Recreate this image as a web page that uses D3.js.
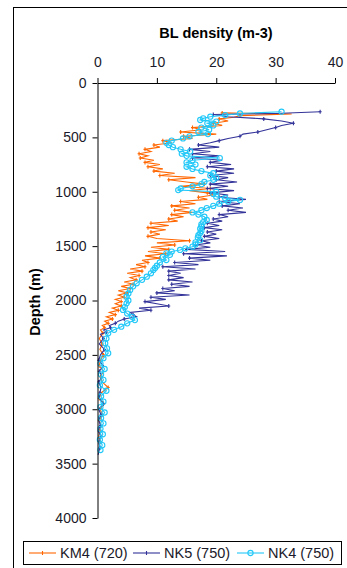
<!DOCTYPE html>
<html>
<body style="margin:0">
<meta charset="UTF-8">
<title>BL density vs depth</title>
<style>
    body {
        font: 11px "Liberation Sans", Arial, sans-serif;
        background: #fff;
    }
    .axis text {
        font: 14px "Liberation Sans", Arial, sans-serif;
        fill: #1a1a2a;
    }
    .axis path, .axis line {
        stroke: #000;
    }
</style>
<div id="chart"></div>
<script src="https://d3js.org/d3.v7.min.js"></script>
<script>

    var xTicks = [0, 10, 20, 30, 40];
    var yTicks = [0, 500, 1000, 1500, 2000, 2500, 3000, 3500, 4000];

    var km4Depth = [275, 285, 300, 315, 330, 350, 370, 390, 410, 430, 450, 470, 490, 510, 530, 550, 570, 590, 610, 630,
        650, 670, 690, 710, 730, 750, 770, 790, 810, 830, 850, 870, 890, 910, 930, 950, 970, 990, 1010, 1030,
        1050, 1070, 1090, 1110, 1130, 1150, 1170, 1190, 1210, 1230, 1250, 1270, 1290, 1310, 1330, 1350, 1370, 1390, 1410, 1430,
        1450, 1470, 1490, 1510, 1530, 1550, 1570, 1590, 1610, 1630, 1650, 1670, 1690, 1710, 1730, 1750, 1770, 1790, 1810, 1830,
        1850, 1870, 1890, 1910, 1930, 1950, 1970, 1990, 2010, 2030, 2050, 2070, 2090, 2110, 2130, 2150, 2170, 2190, 2210, 2230,
        2250, 2270, 2300, 2350, 2400, 2450, 2500, 2550, 2600, 2650, 2700, 2750, 2800, 2850, 2900, 2950, 3000, 3050, 3100, 3150,
        3200, 3250, 3300];
    var km4Val = [21, 32.7, 24, 23, 20.5, 22, 19.5, 21, 16, 17.5, 14, 20, 14.5, 16, 11, 12.5, 9.5, 10.5, 8, 9,
        7, 8.5, 7.2, 9.5, 8, 10.5, 8.5, 11, 9.5, 13, 10.5, 16.5, 12, 15, 18, 14, 19, 15.5, 18.5, 19.5,
        17, 18.5, 14, 16.5, 12.5, 15.5, 13, 16, 12.5, 14.5, 12, 13.5, 9, 12, 8.5, 11.5, 9, 10.5, 8.5, 10,
        15.5, 10, 13, 9, 12, 8.5, 11.5, 8, 10.5, 7.5, 8.5, 6.5, 8, 5.5, 7.5, 5, 7, 5.5, 6.5, 4.5,
        6, 4, 5.5, 3.5, 5, 3.5, 4.5, 3, 4, 3, 4, 2.5, 3.5, 2, 3, 1.5, 2.5, 1.2, 1.8, 0.8,
        1.2, 0.5, 0.9, 0.3, 0.8, 0.4, 1, 0.5, 0.3, 1, 0.5, 0.8, 1.8, 0.6, 0.3, 1.2, 0.4, 0.9, 0.3, 0.6,
        0.4, 0.2, 0.5];

    var nk5Depth = [265, 280, 290, 310, 330, 350, 370, 390, 410, 430, 450, 470, 490, 510, 530, 550, 570, 590, 610, 630,
        650, 670, 690, 710, 730, 750, 770, 790, 810, 830, 850, 870, 890, 910, 930, 950, 970, 990, 1010, 1030,
        1050, 1070, 1090, 1110, 1130, 1150, 1170, 1190, 1210, 1230, 1250, 1270, 1290, 1310, 1330, 1350, 1370, 1390, 1410, 1430,
        1450, 1470, 1490, 1510, 1530, 1550, 1570, 1590, 1610, 1630, 1650, 1670, 1690, 1710, 1730, 1750, 1770, 1790, 1810, 1830,
        1850, 1870, 1890, 1910, 1930, 1950, 1970, 1990, 2010, 2030, 2050, 2070, 2090, 2110, 2130, 2150, 2170, 2190, 2210, 2230,
        2250, 2270, 2290, 2310, 2350, 2400, 2450, 2500, 2550, 2600, 2650, 2700, 2750, 2800, 2850, 2900, 2950, 3000, 3050, 3100,
        3150, 3200, 3250, 3300, 3350, 3420];
    var nk5Val = [37.5, 30, 19.5, 22, 28, 31, 33, 31, 30, 28.5, 27, 24.5, 24, 22, 20.5, 19, 17, 20.5, 15.5, 19,
        16, 20.5, 16, 21, 19, 22.5, 18.5, 23, 20, 23, 19, 22, 20, 23.5, 19, 22, 18.5, 23, 19, 22,
        20.5, 25, 20.5, 24, 21, 24.5, 22, 25, 20.5, 22, 19.5, 21, 18.5, 20.5, 18, 21, 18.5, 20, 18, 20.5,
        17.5, 19, 16.5, 19, 15, 21.5, 14.5, 21.8, 15.5, 19, 13, 17, 11, 16.5, 12, 14, 12, 14.5, 12, 16,
        12.5, 15.5, 11, 13, 10, 15.5, 9, 11.5, 8, 10, 12, 7, 9, 5.5, 6, 6.6, 4.5, 3.5, 3, 2,
        2.2, 1, 1.5, 0.5, 1, 0.3, 1.2, 0.5, 0.2, 1, 0.3, 0.8, 0.2, 0.6, 0.4, 0.3, 1, 0.2, 0.6, 0.2,
        0.5, 0.1, 0.6, 0.2, 0.4, 0.1];

    var nk4Depth = [264, 280, 295, 310, 325, 340, 355, 370, 390, 410, 430, 450, 470, 490, 510, 530, 550, 570, 590, 610,
        630, 650, 670, 690, 710, 730, 750, 770, 790, 810, 830, 850, 870, 890, 910, 930, 950, 970, 985, 1000,
        1020, 1045, 1060, 1075, 1090, 1110, 1130, 1150, 1170, 1190, 1210, 1230, 1260, 1280, 1300, 1320, 1340, 1360, 1380, 1400,
        1420, 1445, 1465, 1485, 1505, 1520, 1535, 1550, 1566, 1580, 1600, 1628, 1650, 1680, 1700, 1720, 1750, 1781, 1810, 1842,
        1870, 1903, 1935, 1965, 2000, 2026, 2060, 2087, 2120, 2150, 2180, 2210, 2241, 2270, 2300, 2350, 2393, 2440, 2485, 2530,
        2580, 2630, 2680, 2730, 2780, 2830, 2880, 2930, 2980, 3030, 3080, 3130, 3180, 3230, 3280, 3330, 3375];
    var nk4Val = [31, 24, 21.5, 19, 17.8, 17.3, 20, 18.5, 19.5, 17.5, 18.8, 17, 18.6, 15.5, 14.4, 12.5, 11.6, 12, 12.7, 14,
        15.6, 14.2, 15, 20.6, 16, 15, 16.5, 15, 16, 17.5, 19.5, 19, 20, 19.5, 18, 17.5, 16, 14, 13.6, 20,
        19.5, 20, 21.5, 24, 22, 20.5, 19.5, 18.4, 17.5, 16, 17, 18, 18.4, 17.8, 17.5, 17.5, 17.3, 17.5, 17.3, 17,
        16.9, 17.3, 16.5, 16.5, 16, 14.8, 13.9, 12.5, 11.6, 12.2, 11, 11.6, 10.5, 10, 9.7, 9.4, 9, 8.3, 7.5, 6.6,
        6, 5.5, 5.2, 4.9, 5.2, 4.9, 4.6, 4.3, 5, 5.8, 6.3, 5, 4, 2.8, 1.8, 1.5, 1.3, 1.6, 1.8, 1,
        0.5, 1.2, 0.6, 1, 0.4, 1.5, 0.6, 1, 0.5, 1.2, 0.6, 1, 0.5, 0.9, 0.4, 0.8, 0.5];

    var series = [
        { name: "KM4 (720)", color: "#ff6600", marker: "plus", depth: km4Depth, val: km4Val },
        { name: "NK5 (750)", color: "#333399", marker: "plus", depth: nk5Depth, val: nk5Val },
        { name: "NK4 (750)", color: "#22c8f8", marker: "circle", depth: nk4Depth, val: nk4Val }
    ];

    var width = 347,
        height = 568;

    var svg = d3.select("#chart")
        .append("svg")
        .attr("width", width)
        .attr("height", height);

    // chart area border
    svg.append("rect")
        .attr("x", 13.5).attr("y", 7.5)
        .attr("width", 345).attr("height", 580)
        .style("fill", "none").style("stroke", "#000");

    var x = d3.scaleLinear().domain([0, 40]).range([97.5, 335]);
    var y = d3.scaleLinear().domain([0, 4000]).range([83, 518]);

    var plot = svg.append("g");

    series.forEach(function(s) {
        var pts = s.depth.map(function(d, i) { return [s.val[i], d]; });
        var line = d3.line()
            .x(function(d) { return x(d[0]); })
            .y(function(d) { return y(d[1]); });

        plot.append("path")
            .datum(pts)
            .attr("d", line)
            .style("fill", "none")
            .style("stroke", s.color)
            .style("stroke-width", 1.1);

        if (s.marker == "circle") {
            plot.selectAll(null)
                .data(pts)
                .enter().append("circle")
                .attr("cx", function(d) { return x(d[0]); })
                .attr("cy", function(d) { return y(d[1]); })
                .attr("r", 2.6)
                .style("fill", "none")
                .style("stroke", s.color)
                .style("stroke-width", 1.1);
        } else {
            plot.selectAll(null)
                .data(pts.filter(function(d, i) { return i % 2 == 0; }))
                .enter().append("path")
                .attr("d", function(d) {
                    var px = x(d[0]), py = y(d[1]);
                    return "M" + (px - 1.5) + "," + py + "H" + (px + 1.5) + "M" + px + "," + (py - 2) + "V" + (py + 2);
                })
                .style("stroke", s.color)
                .style("stroke-width", 1.1);
        }
    });

    var xAxis = svg.append("g")
        .attr("class", "axis")
        .attr("transform", "translate(0,83)")
        .call(d3.axisTop(x).tickValues(xTicks).tickSizeInner(5).tickSizeOuter(0).tickPadding(11));

    var yAxis = svg.append("g")
        .attr("class", "axis")
        .attr("transform", "translate(97.5,0)")
        .call(d3.axisLeft(y).tickValues(yTicks).tickFormat(d3.format("d"))
            .tickSizeInner(5).tickSizeOuter(0).tickPadding(6));

    svg.append("text")
        .attr("x", 216)
        .attr("y", 38)
        .attr("text-anchor", "middle")
        .style("font-weight", "bold")
        .style("font-size", "14.5px")
        .text("BL density (m-3)");

    svg.append("text")
        .attr("transform", "translate(40,302) rotate(-90)")
        .attr("text-anchor", "middle")
        .style("font-weight", "bold")
        .style("font-size", "14.5px")
        .text("Depth (m)");

    // legend
    var legend = svg.append("g");
    legend.append("rect")
        .attr("x", 23.5).attr("y", 541.5)
        .attr("width", 318).attr("height", 23)
        .style("fill", "#fff").style("stroke", "#000");

    var legendX = [29, 133, 237];
    series.forEach(function(s, i) {
        var g = legend.append("g").attr("transform", "translate(" + legendX[i] + ",553)");
        g.append("line")
            .attr("x1", 0).attr("x2", 27)
            .style("stroke", s.color).style("stroke-width", 1.1);
        if (s.marker == "circle") {
            g.append("circle").attr("cx", 13.5).attr("r", 2.6)
                .style("fill", "none").style("stroke", s.color).style("stroke-width", 1.1);
        } else {
            g.append("line").attr("x1", 13.5).attr("x2", 13.5).attr("y1", -2).attr("y2", 2)
                .style("stroke", s.color).style("stroke-width", 1.1);
        }
        g.append("text")
            .attr("x", 31)
            .attr("y", 5)
            .style("font-size", "14.5px")
            .style("fill", "#1a1a2a")
            .text(s.name);
    });

</script>
</body>
</html>
